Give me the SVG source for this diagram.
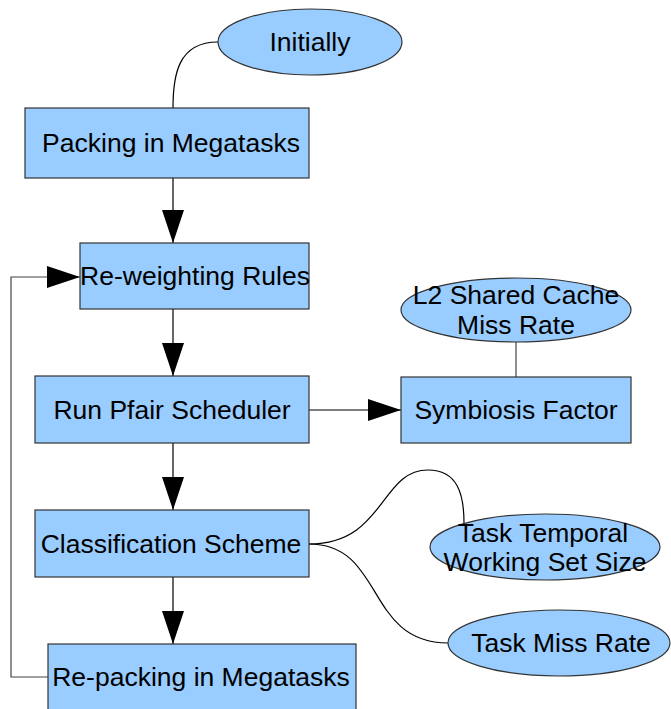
<svg xmlns="http://www.w3.org/2000/svg" width="671" height="709" viewBox="0 0 671 709">
<defs>
<style>
.n{fill:#99ccff;stroke:#333;stroke-width:1.2}
.t{font-family:"Liberation Sans",Arial,sans-serif;font-size:26.5px;fill:#000;text-anchor:middle}
.c{fill:none;stroke:#000;stroke-width:1.2}
.g{fill:none;stroke:#444;stroke-width:1.2}
</style>
<marker id="ah" viewBox="0 0 33 22" markerUnits="userSpaceOnUse" markerWidth="33" markerHeight="22" refX="33" refY="11" orient="auto">
<path d="M0,0 L33,11 L0,22 Z" fill="#000"/>
</marker>
</defs>
<rect width="671" height="709" fill="#fff"/>
<g id="connectors">
<path class="c" d="M218,42 C178,42 173,75 173,108"/>
<path class="c" d="M173,178 L173,243" marker-end="url(#ah)"/>
<path class="c" d="M173,309 L173,376" marker-end="url(#ah)"/>
<path class="c" d="M309,410 L401,410" marker-end="url(#ah)"/>
<path class="g" d="M516,342 L516,377"/>
<path class="c" d="M173,443 L173,510" marker-end="url(#ah)"/>
<path class="c" d="M309,544 C385,544 380,470 428,470 C458,470 464,495 464,523"/>
<path class="c" d="M309,544 C385,544 365,643 448,643"/>
<path class="c" d="M173,577 L173,644" marker-end="url(#ah)"/>
<path class="g" d="M48,677 L11,677 L11,277 L80,277" marker-end="url(#ah)"/>
</g>
<g id="initially">
<ellipse class="n" cx="310" cy="42" rx="92" ry="33"/>
<text class="t" x="310" y="51">Initially</text>
</g>
<g id="packing">
<rect class="n" x="25" y="108" width="284" height="70"/>
<text class="t" x="171" y="152">Packing in Megatasks</text>
</g>
<g id="reweighting">
<rect class="n" x="80" y="243" width="229" height="66"/>
<text class="t" x="195" y="285">Re-weighting Rules</text>
</g>
<g id="pfair">
<rect class="n" x="35" y="376" width="274" height="67"/>
<text class="t" x="172" y="419">Run Pfair Scheduler</text>
</g>
<g id="l2">
<ellipse class="n" cx="516" cy="310" rx="115" ry="32"/>
<text class="t" x="516" y="304">L2 Shared Cache</text>
<text class="t" x="516" y="334">Miss Rate</text>
</g>
<g id="symbiosis">
<rect class="n" x="401" y="377" width="230" height="66"/>
<text class="t" x="516" y="419">Symbiosis Factor</text>
</g>
<g id="classification">
<rect class="n" x="35" y="510" width="274" height="67"/>
<text class="t" x="171" y="553">Classification Scheme</text>
</g>
<g id="temporal">
<ellipse class="n" cx="545" cy="547" rx="115" ry="33"/>
<text class="t" x="543" y="542">Task Temporal</text>
<text class="t" x="545" y="571">Working Set Size</text>
</g>
<g id="missrate">
<ellipse class="n" cx="559" cy="643" rx="111" ry="33"/>
<text class="t" x="561" y="652">Task Miss Rate</text>
</g>
<g id="repacking">
<rect class="n" x="48" y="644" width="308" height="80"/>
<text class="t" x="201" y="686">Re-packing in Megatasks</text>
</g>
</svg>
